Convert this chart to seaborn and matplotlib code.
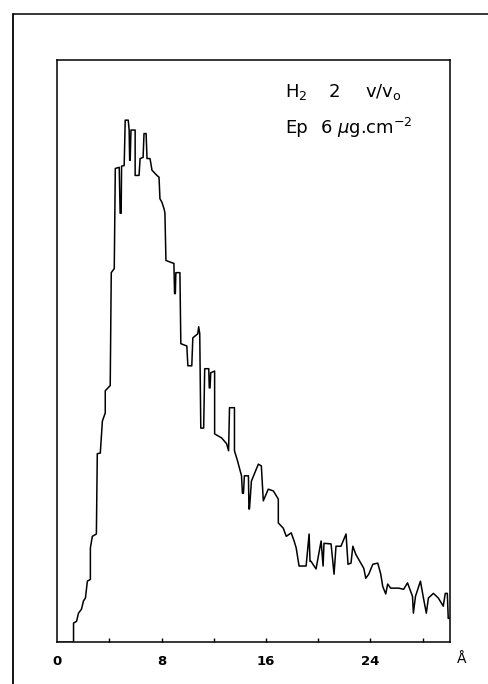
import matplotlib
matplotlib.use("Agg")
import matplotlib.pyplot as plt
import seaborn as sns
import pandas as pd
from matplotlib.lines import Line2D

# Trace of the distance distribution (arbitrary counts vs distance in Å)
distance = [
    0.0, 1.26, 1.26, 1.49, 1.64, 1.87, 2.02, 2.17, 2.32, 2.55, 2.55, 2.70, 3.01, 3.08, 3.31,
    3.47, 3.69, 3.69, 4.07, 4.15, 4.38, 4.46, 4.76, 4.83, 4.91, 4.94, 5.14, 5.22, 5.45,
    5.52, 5.56, 5.60, 5.66, 5.98, 5.98, 6.28, 6.36, 6.59, 6.66, 6.82, 6.89, 7.12, 7.27,
    7.65, 7.81, 7.88, 8.03, 8.19, 8.26, 8.34, 8.80, 8.95, 9.00, 9.06, 9.10, 9.41, 9.48,
    9.94, 10.02, 10.32, 10.40, 10.78, 10.85, 10.93, 11.01, 11.23, 11.31, 11.62, 11.66,
    11.72, 11.77, 12.07, 12.07, 12.61, 12.99, 13.14, 13.21, 13.59, 13.59, 13.82, 14.13,
    14.20, 14.28, 14.35, 14.66, 14.70, 14.74, 14.89, 15.42, 15.65, 15.80, 16.18, 16.57,
    16.95, 16.95, 17.33, 17.56, 17.94, 18.16, 18.32, 18.54, 19.08, 19.31, 19.38, 19.46,
    19.84, 20.23, 20.38, 20.45, 20.99, 21.22, 21.37, 21.75, 22.14, 22.29, 22.52, 22.66,
    22.89, 23.50, 23.65, 23.88, 24.19, 24.57, 24.80, 24.95, 25.18, 25.33, 25.56, 26.17,
    26.55, 26.85, 27.23, 27.30, 27.46, 27.84, 28.07, 28.29, 28.45, 28.83, 29.21, 29.59,
    29.74, 29.90, 29.97, 30.10,
]
counts = [
    0.0, 0.0, 3.3, 3.6, 5.0, 5.7, 7.1, 7.6, 10.5, 10.8, 16.2, 18.2, 18.6, 32.4, 32.5,
    38.0, 39.4, 43.2, 44.1, 63.5, 64.2, 81.4, 81.6, 73.7, 73.7, 81.8, 81.9, 89.7, 89.7,
    88.0, 82.8, 82.8, 88.0, 88.0, 80.2, 80.2, 83.1, 83.3, 87.4, 87.4, 83.1, 83.1, 81.1,
    80.2, 79.9, 76.2, 75.6, 74.5, 73.8, 65.6, 65.2, 65.1, 59.9, 59.9, 63.5, 63.5, 51.3,
    50.9, 47.5, 47.5, 52.3, 53.0, 54.2, 53.0, 36.8, 36.8, 47.0, 47.0, 43.7,
    43.7, 46.3, 46.6, 35.8, 35.1, 34.1, 32.9, 40.3, 40.3, 32.9, 31.2, 28.6,
    25.6, 25.6, 28.6, 28.6, 22.9, 22.9, 27.7, 30.6, 30.3, 24.3, 26.3, 26.0,
    24.6, 20.5, 19.6, 18.2, 18.8, 17.4, 16.2, 13.1, 13.1, 18.6, 13.9, 13.9,
    12.6, 17.4, 13.1, 17.0, 16.9, 11.7, 16.5, 16.5, 18.6, 13.4, 13.6, 16.5,
    15.1, 12.7, 11.0, 11.7, 13.4, 13.6, 11.7, 9.6, 8.3, 10.0, 9.3, 9.3,
    9.1, 10.2, 7.9, 5.0, 7.9, 10.5, 7.6, 5.0, 7.6, 8.4, 7.6, 6.2,
    8.4, 8.4, 4.1, 4.1,
]

minor_ticks = [4, 8, 12, 16, 20, 24, 28]
tick_labels = ["0", "8", "16", "24"]
tick_values = [0, 8, 16, 24]

sns.set_style("white")
plt.rcParams["font.family"] = ["DejaVu Sans"]

df = pd.DataFrame({"d": distance, "n": counts})

fig = plt.figure(figsize=(4.88, 6.84), dpi=100)
ax = fig.add_axes([0.117, 0.061, 0.805, 0.851])

sns.lineplot(data=df, x="d", y="n", sort=False, estimator=None,
             color="black", linewidth=1.1, ax=ax)

ax.set_xlim(0, 30.1)
ax.set_ylim(0, 100)
ax.set_xlabel("")
ax.set_ylabel("")
ax.set_yticks([])

for side in ["left", "right", "top", "bottom"]:
    ax.spines[side].set_visible(True)
    ax.spines[side].set_color("black")
    ax.spines[side].set_linewidth(1.1)

# small inward ticks along the bottom axis
ax.set_xticks(minor_ticks)
ax.set_xticklabels([])
ax.tick_params(axis="x", direction="in", length=3, width=1, color="black", bottom=True)

for v, lab in zip(tick_values, tick_labels):
    ax.text(v, -2.2, lab, ha="center", va="top", fontsize=9.5,
            fontweight="bold", color="black", transform=ax.transData)
ax.text(31.0, -1.6, "Å", ha="center", va="top", fontsize=10,
        color="black", transform=ax.transData, clip_on=False)

# sample annotation
ann = dict(transform=ax.transAxes, ha="left", va="center", fontsize=13, color="black")
ax.text(0.580, 0.946, r"H$_2$", **ann)
ax.text(0.690, 0.946, "2", **ann)
ax.text(0.785, 0.946, r"v/v$_\mathrm{o}$", **ann)
ax.text(0.580, 0.884, "Ep", **ann)
ax.text(0.668, 0.884, r"6 $\mu$g.cm$^{-2}$", **ann)

# outer frame
fig.add_artist(Line2D([0.027, 0.027], [0.0, 0.98], transform=fig.transFigure,
                      color="black", linewidth=1.3))
fig.add_artist(Line2D([0.027, 1.0], [0.98, 0.98], transform=fig.transFigure,
                      color="black", linewidth=1.1))

fig.savefig("out.png", dpi=100, facecolor="white")
